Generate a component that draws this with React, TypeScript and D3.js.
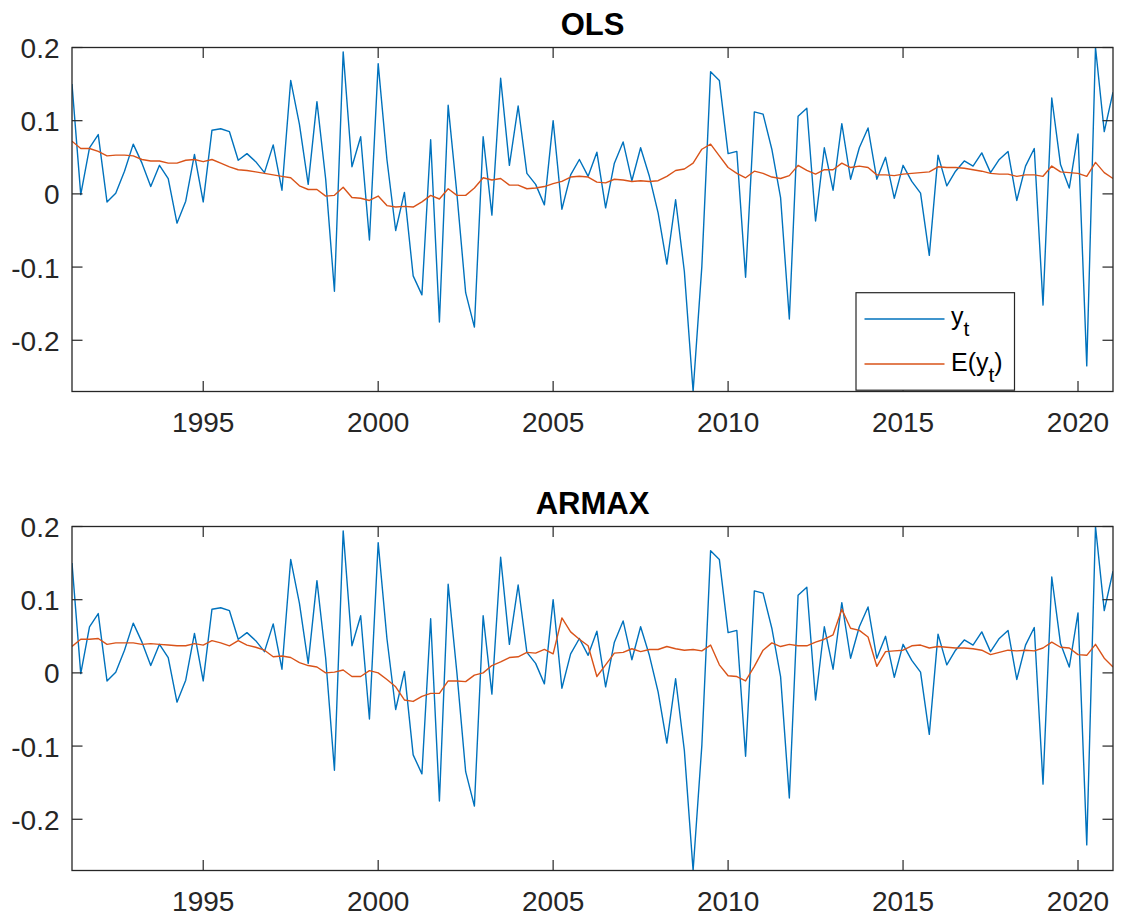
import React from 'react';
import * as d3 from 'd3';

// quarterly observations, 1991.25 .. 2021.00
const startYear = 1991.25;
const yObs = [
  0.150, -0.001, 0.063, 0.081, -0.011, 0.001, 0.031, 0.068, 0.042, 0.010,
  0.039, 0.021, -0.040, -0.010, 0.054, -0.011, 0.087, 0.089, 0.085, 0.046,
  0.055, 0.044, 0.029, 0.067, 0.005, 0.155, 0.095, 0.013, 0.126, 0.020,
  -0.133, 0.194, 0.037, 0.078, -0.063, 0.178, 0.047, -0.050, 0.002, -0.112,
  -0.138, 0.074, -0.175, 0.121, 0.000, -0.135, -0.182, 0.078, -0.029, 0.158,
  0.039, 0.120, 0.028, 0.013, -0.015, 0.100, -0.021, 0.026, 0.047, 0.024,
  0.057, -0.019, 0.042, 0.071, 0.018, 0.063, 0.024, -0.026, -0.096, -0.008,
  -0.106, -0.270, -0.099, 0.167, 0.155, 0.055, 0.058, -0.114, 0.112, 0.109,
  0.061, -0.005, -0.171, 0.106, 0.117, -0.037, 0.063, 0.005, 0.096, 0.020,
  0.063, 0.090, 0.020, 0.050, -0.006, 0.039, 0.017, 0.001, -0.084, 0.053,
  0.011, 0.031, 0.045, 0.038, 0.056, 0.029, 0.047, 0.058, -0.009, 0.038,
  0.062, -0.152, 0.131, 0.040, 0.008, 0.082, -0.235, 0.200, 0.085, 0.139,
];

const olsFit = [
  0.072, 0.062, 0.062, 0.058, 0.052, 0.053, 0.053, 0.052, 0.047, 0.045,
  0.045, 0.042, 0.042, 0.046, 0.047, 0.044, 0.047, 0.042, 0.037, 0.033,
  0.032, 0.030, 0.028, 0.026, 0.024, 0.022, 0.011, 0.006, 0.006, -0.003,
  -0.002, 0.009, -0.005, -0.006, -0.009, -0.003, -0.016, -0.018, -0.017, -0.018,
  -0.011, -0.002, -0.007, 0.007, -0.002, -0.002, 0.008, 0.022, 0.019, 0.021,
  0.012, 0.012, 0.007, 0.008, 0.010, 0.014, 0.017, 0.023, 0.024, 0.023,
  0.016, 0.015, 0.020, 0.019, 0.017, 0.018, 0.017, 0.018, 0.024, 0.032,
  0.034, 0.042, 0.061, 0.068, 0.052, 0.036, 0.028, 0.022, 0.031, 0.028,
  0.023, 0.021, 0.025, 0.039, 0.032, 0.027, 0.033, 0.033, 0.042, 0.036,
  0.038, 0.036, 0.026, 0.026, 0.025, 0.027, 0.028, 0.029, 0.030, 0.037,
  0.036, 0.036, 0.035, 0.033, 0.031, 0.028, 0.027, 0.027, 0.024, 0.026,
  0.026, 0.024, 0.038, 0.030, 0.029, 0.028, 0.024, 0.043, 0.029, 0.021,
];

const armaxFit = [
  0.036, 0.046, 0.046, 0.047, 0.039, 0.041, 0.041, 0.041, 0.039, 0.040,
  0.039, 0.038, 0.037, 0.037, 0.040, 0.038, 0.044, 0.041, 0.037, 0.044,
  0.038, 0.035, 0.031, 0.022, 0.023, 0.021, 0.014, 0.010, 0.008, 0.000,
  0.001, 0.004, -0.005, -0.005, 0.003, 0.000, -0.009, -0.019, -0.037, -0.039,
  -0.032, -0.028, -0.028, -0.011, -0.011, -0.012, -0.003, 0.000, 0.010, 0.015,
  0.021, 0.022, 0.028, 0.027, 0.032, 0.026, 0.075, 0.056, 0.046, 0.037,
  -0.005, 0.011, 0.027, 0.028, 0.033, 0.029, 0.032, 0.032, 0.036, 0.033,
  0.031, 0.032, 0.030, 0.038, 0.011, -0.004, -0.005, -0.011, 0.009, 0.031,
  0.041, 0.036, 0.039, 0.037, 0.037, 0.042, 0.046, 0.052, 0.087, 0.061,
  0.058, 0.049, 0.009, 0.029, 0.030, 0.031, 0.037, 0.038, 0.034, 0.036,
  0.035, 0.034, 0.034, 0.033, 0.031, 0.025, 0.028, 0.031, 0.030, 0.031,
  0.030, 0.034, 0.042, 0.035, 0.034, 0.025, 0.024, 0.039, 0.020, 0.008,
];

const xTicks = [1995, 2000, 2005, 2010, 2015, 2020];
const yTicks = [-0.2, -0.1, 0, 0.1, 0.2];
const yTickLabels = ['-0.2', '-0.1', '0', '0.1', '0.2'];

const BLUE = '#0072BD';
const ORANGE = '#D95319';
const AXIS = '#262626';
const FONT = '"Liberation Sans", Arial, Helvetica, sans-serif';

const W = 1121;
const H = 922;
const left = 72;
const right = 1113;
const tickLen = 10.5;

const panels = [
  { title: 'OLS', top: 47.5, bottom: 391.5, fit: olsFit, legend: true },
  { title: 'ARMAX', top: 526.5, bottom: 870.5, fit: armaxFit, legend: false },
];

function Panel({ p, idx }) {
  const times = yObs.map((_, i) => startYear + i * 0.25);
  const x = d3.scaleLinear().domain([startYear, 2021]).range([left, right]);
  const y = d3.scaleLinear().domain([-0.27, 0.2]).range([p.bottom, p.top]);
  const line = d3.line<number>()
    .x((d, i) => x(times[i]))
    .y(d => y(d));
  const clipId = 'clip' + idx;

  return (
    <g>
      <defs>
        <clipPath id={clipId}>
          <rect x={left} y={p.top} width={right - left} height={p.bottom - p.top} />
        </clipPath>
      </defs>
      <rect x={left} y={p.top} width={right - left} height={p.bottom - p.top} fill="#fff" />
      <g clipPath={`url(#${clipId})`}>
        <path d={line(yObs)} fill="none" stroke={BLUE} strokeWidth={1.4} strokeLinejoin="round" />
        <path d={line(p.fit)} fill="none" stroke={ORANGE} strokeWidth={1.4} strokeLinejoin="round" />
      </g>

      {/* ticks on all four sides, pointing inward */}
      {xTicks.map(t => (
        <g key={'xt' + t}>
          <line x1={x(t)} x2={x(t)} y1={p.bottom} y2={p.bottom - tickLen} stroke={AXIS} strokeWidth={1.2} />
          <line x1={x(t)} x2={x(t)} y1={p.top} y2={p.top + tickLen} stroke={AXIS} strokeWidth={1.2} />
          <text x={x(t)} y={p.bottom + 40.5} textAnchor="middle" fontSize={28} fill={AXIS} fontFamily={FONT}>{t}</text>
        </g>
      ))}
      {yTicks.map((t, i) => (
        <g key={'yt' + t}>
          <line x1={left} x2={left + tickLen} y1={y(t)} y2={y(t)} stroke={AXIS} strokeWidth={1.2} />
          <line x1={right} x2={right - tickLen} y1={y(t)} y2={y(t)} stroke={AXIS} strokeWidth={1.2} />
          <text x={59.5} y={y(t) + 10.5} textAnchor="end" fontSize={28} fill={AXIS} fontFamily={FONT}>{yTickLabels[i]}</text>
        </g>
      ))}
      <rect x={left} y={p.top} width={right - left} height={p.bottom - p.top} fill="none" stroke={AXIS} strokeWidth={1.3} />

      <text x={(left + right) / 2} y={p.top - 12.8} textAnchor="middle" fontSize={31} fontWeight="bold" fill="#000" fontFamily={FONT}>{p.title}</text>

      {p.legend && (
        <g fontFamily={FONT} fill="#000">
          <rect x={856} y={292.7} width={158.5} height={97.5} fill="#fff" stroke={AXIS} strokeWidth={1.2} />
          <line x1={864.5} x2={944.5} y1={319} y2={319} stroke={BLUE} strokeWidth={1.4} />
          <line x1={864.5} x2={944.5} y1={364} y2={364} stroke={ORANGE} strokeWidth={1.4} />
          <text x={951} y={325} fontSize={25}>
            y<tspan dy={11} fontSize={21}>t</tspan>
          </text>
          <text x={951} y={370.7} fontSize={25}>
            E(y<tspan dy={11} fontSize={21}>t</tspan><tspan dy={-11} fontSize={25}>)</tspan>
          </text>
        </g>
      )}
    </g>
  );
}

export default function App() {
  return (
    <svg width={W} height={H} style={{ position: 'absolute', left: 0, top: 0, background: '#fff' }}>
      <rect width={W} height={H} fill="#fff" />
      {panels.map((p, i) => <Panel key={p.title} p={p} idx={i} />)}
    </svg>
  );
}
